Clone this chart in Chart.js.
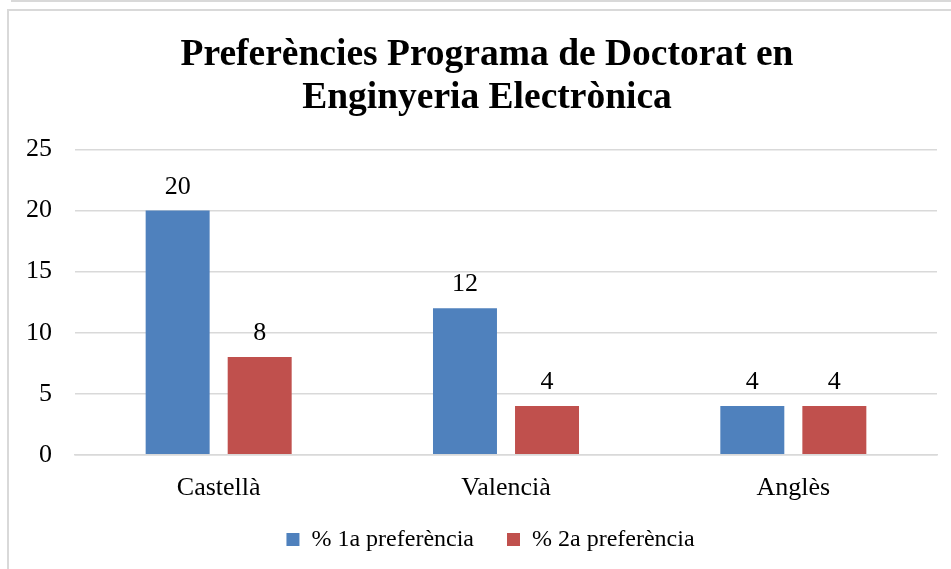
<!DOCTYPE html>
<html>
<head>
<meta charset="utf-8">
<script src="https://cdn.jsdelivr.net/npm/chart.js@4"></script>
<style>
  html, body { margin: 0; padding: 0; background: #fff; overflow: hidden; width: 951px; height: 569px; }
  #top { position: absolute; left: 11px; top: -10px; width: 1000px; height: 12px; border: 2px solid #d9d9d9; box-sizing: border-box; }
  #frame { position: absolute; left: 7px; top: 9px; width: 1000px; height: 620px; border: 2px solid #d9d9d9; box-sizing: border-box; }
  #wrap { position: absolute; left: 9px; top: 11px; width: 956px; height: 588px; }
</style>
</head>
<body>
<div id="top"></div>
<div id="frame"></div>
<div id="wrap"><canvas id="c"></canvas></div>
<script>
const titleLines = ['Preferències Programa de Doctorat en', 'Enginyeria Electrònica'];
const categories = ['Castellà', 'Valencià', 'Anglès'];
const seriesNames = ['% 1a preferència', '% 2a preferència'];
const pref1 = [20, 12, 4];
const pref2 = [8, 4, 4];
const yTicks = [0, 5, 10, 15, 20, 25];
const colors = ['#4F81BD', '#C0504D'];

const FONT = "'Liberation Serif', 'Times New Roman', serif";

const dataLabels = {
  id: 'dataLabels',
  afterDatasetsDraw(chart) {
    const ctx = chart.ctx;
    ctx.save();
    ctx.font = '26px ' + FONT;
    ctx.fillStyle = '#000';
    ctx.textAlign = 'center';
    ctx.textBaseline = 'alphabetic';
    chart.data.datasets.forEach((ds, i) => {
      chart.getDatasetMeta(i).data.forEach((bar, j) => {
        ctx.fillText(String(ds.data[j]), bar.x, bar.y - 17);
      });
    });
    ctx.restore();
  }
};

// centre title and legend on the full chart frame rather than the padded box,
// and pull the legend up closer to the category labels
const shiftBoxes = {
  id: 'shiftBoxes',
  afterLayout(chart) {
    if (chart.titleBlock) { chart.titleBlock.left += 6.5; chart.titleBlock.right += 6.5; }
    if (chart.legend) {
      chart.legend.left += 10; chart.legend.right += 10;
      chart.legend.top -= 27.5; chart.legend.bottom -= 27.5;
    }
  }
};

new Chart(document.getElementById('c'), {
  type: 'bar',
  data: {
    labels: categories,
    datasets: [
      { label: seriesNames[0], data: pref1, backgroundColor: colors[0] },
      { label: seriesNames[1], data: pref2, backgroundColor: colors[1] }
    ]
  },
  options: {
    responsive: true,
    maintainAspectRatio: false,
    animation: false,
    devicePixelRatio: 1,
    layout: { padding: { left: 15, right: 28, top: 0, bottom: 10 } },
    datasets: { bar: { categoryPercentage: 0.571, barPercentage: 0.78 } },
    plugins: {
      title: {
        display: true,
        text: titleLines,
        color: '#000',
        font: { family: FONT, size: 37.5, weight: 'bold', lineHeight: 1.14 },
        padding: { top: 23, bottom: 30 }
      },
      legend: {
        position: 'bottom',
        labels: {
          color: '#000',
          font: { family: FONT, size: 24 },
          boxWidth: 13,
          boxHeight: 13,
          padding: 33
        }
      },
      tooltip: { enabled: false }
    },
    scales: {
      x: {
        grid: { display: false, drawTicks: false },
        border: { display: true, color: '#d9d9d9', width: 1.5 },
        ticks: { color: '#000', font: { family: FONT, size: 26 }, padding: 18 }
      },
      y: {
        min: 0,
        max: 25,
        afterBuildTicks(scale) { scale.ticks = yTicks.map(v => ({ value: v })); },
        afterFit(scale) { scale.width = 51; },
        grid: { color: '#d9d9d9', lineWidth: 1.5, drawTicks: false },
        border: { display: false },
        ticks: { color: '#000', font: { family: FONT, size: 26 }, padding: 23 }
      }
    }
  },
  plugins: [dataLabels, shiftBoxes]
});
</script>
</body>
</html>
